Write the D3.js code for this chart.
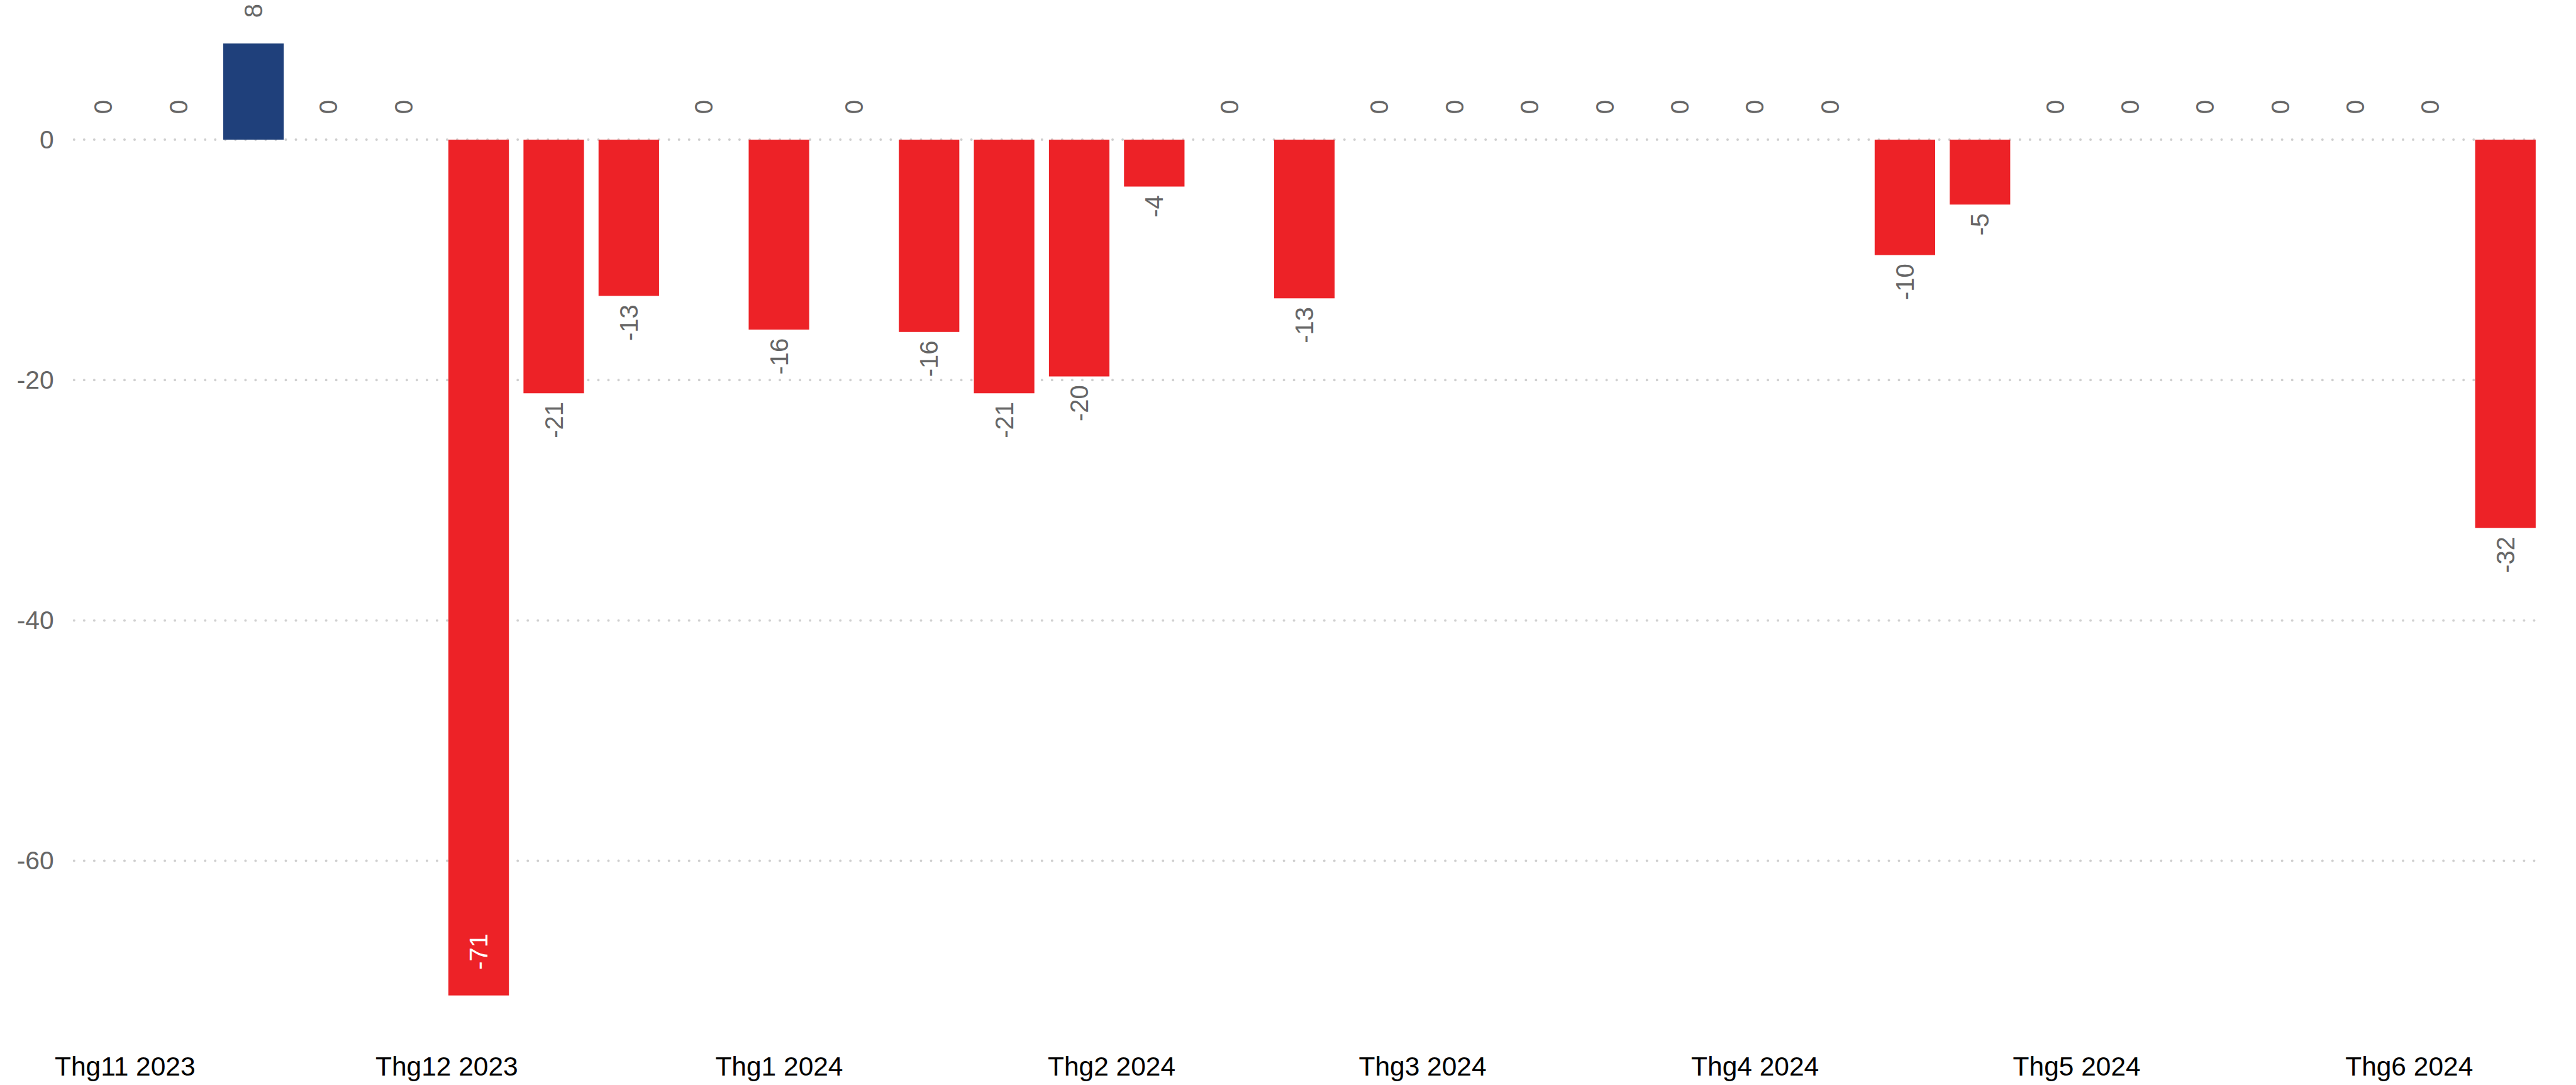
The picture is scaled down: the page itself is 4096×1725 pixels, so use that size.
<!DOCTYPE html>
<html>
<head>
<meta charset="utf-8">
<script src="https://cdn.jsdelivr.net/npm/d3@7"></script>
<style>
  html, body { margin: 0; padding: 0; background: #fff; }
  svg { display: block; }
  text { font-family: "Liberation Sans", Arial, sans-serif; }
</style>
</head>
<body>
<svg id="chart"></svg>
<script>
// weekly buckets (week start, Monday)
const weeks = [
  "2023-10-30", "2023-11-06", "2023-11-13", "2023-11-20", "2023-11-27",
  "2023-12-04", "2023-12-11", "2023-12-18", "2023-12-25",
  "2024-01-01", "2024-01-08", "2024-01-15", "2024-01-22", "2024-01-29",
  "2024-02-05", "2024-02-12", "2024-02-19", "2024-02-26",
  "2024-03-04", "2024-03-11", "2024-03-18", "2024-03-25",
  "2024-04-01", "2024-04-08", "2024-04-15", "2024-04-22", "2024-04-29",
  "2024-05-06", "2024-05-13", "2024-05-20", "2024-05-27",
  "2024-06-03", "2024-06-10"
];
const values = [
  0, 0, 8, 0, 0,
  -71.2, -21.1, -13, 0,
  -15.8, 0, -16, -21.1, -19.7,
  -3.9, 0, -13.2, 0,
  0, 0, 0, 0,
  0, 0, -9.6, -5.4, 0,
  0, 0, 0, 0,
  0, -32.3
];
const yTicks = [0, -20, -40, -60];
const monthTicks = ["2023-11-01", "2023-12-01", "2024-01-01", "2024-02-01",
  "2024-03-01", "2024-04-01", "2024-05-01", "2024-06-01"];
const monthLabels = ["Thg11 2023", "Thg12 2023", "Thg1 2024", "Thg2 2024",
  "Thg3 2024", "Thg4 2024", "Thg5 2024", "Thg6 2024"];

// everything laid out in reference pixels, scaled down by the viewBox
const W = 5110, H = 2152;
const svg = d3.select("#chart")
  .attr("width", 4096)
  .attr("height", 1725)
  .attr("viewBox", `0 0 ${W} ${H}`);

const parse = d3.utcParse("%Y-%m-%d");
const data = weeks.map((w, i) => ({ date: parse(w), value: values[i] }));

const x = d3.scaleUtc()
  .domain([parse(weeks[0]), parse(weeks[weeks.length - 1])])
  .range([205, 4970]);

const y = d3.scaleLinear()
  .domain([0, -20])
  .range([277, 753.8]);

const weekPx = x(d3.utcDay.offset(data[0].date, 7)) - x(data[0].date);
const barW = weekPx * 0.806;

const RED = "#ED2227";
const BLUE = "#1F407B";

// gridlines
svg.append("g")
  .selectAll("line")
  .data(yTicks)
  .join("line")
  .attr("x1", 147)
  .attr("x2", 5044)
  .attr("y1", (d) => y(d))
  .attr("y2", (d) => y(d))
  .attr("stroke", "#cfcfcf")
  .attr("stroke-width", 5)
  .attr("stroke-linecap", "round")
  .attr("stroke-dasharray", "0 20");

// y axis
const yAxis = svg.append("g")
  .attr("transform", "translate(107,0)")
  .call(d3.axisLeft(y).tickValues(yTicks).tickSize(0).tickPadding(0).tickFormat((d) => String(d)));
yAxis.select(".domain").remove();
yAxis.selectAll("text")
  .attr("font-size", 51)
  .attr("fill", "#666")
  .attr("font-family", "'Liberation Sans', Arial, sans-serif");

// x axis
const xAxis = svg.append("g")
  .attr("transform", "translate(0,2133)")
  .call(d3.axisBottom(x)
    .tickValues(monthTicks.map(parse))
    .tickSize(0)
    .tickPadding(0)
    .tickFormat((d, i) => monthLabels[i]));
xAxis.select(".domain").remove();
xAxis.selectAll("text")
  .attr("dy", 0)
  .attr("font-size", 53)
  .attr("fill", "#000")
  .attr("font-family", "'Liberation Sans', Arial, sans-serif");

// bars
svg.append("g")
  .selectAll("rect")
  .data(data.filter((d) => d.value !== 0))
  .join("rect")
  .attr("x", (d) => x(d.date) - barW / 2)
  .attr("width", barW)
  .attr("y", (d) => Math.min(y(0), y(d.value)))
  .attr("height", (d) => Math.abs(y(d.value) - y(0)))
  .attr("fill", (d) => (d.value > 0 ? BLUE : RED));

// value labels, rotated
const inside = (d) => y(d.value) > y(-65);
svg.append("g")
  .selectAll("text")
  .data(data)
  .join("text")
  .attr("transform", (d) => {
    let ty;
    if (d.value >= 0) ty = y(d.value) - 51;
    else if (inside(d)) ty = y(d.value) - 51;
    else ty = y(d.value) + 17;
    return `translate(${x(d.date)},${ty}) rotate(-90)`;
  })
  .attr("text-anchor", (d) => (d.value >= 0 || inside(d) ? "start" : "end"))
  .attr("dy", "0.35em")
  .attr("font-size", 50)
  .attr("fill", (d) => (inside(d) ? "#fff" : "#666"))
  .text((d) => String(Math.round(d.value)));
</script>
</body>
</html>
